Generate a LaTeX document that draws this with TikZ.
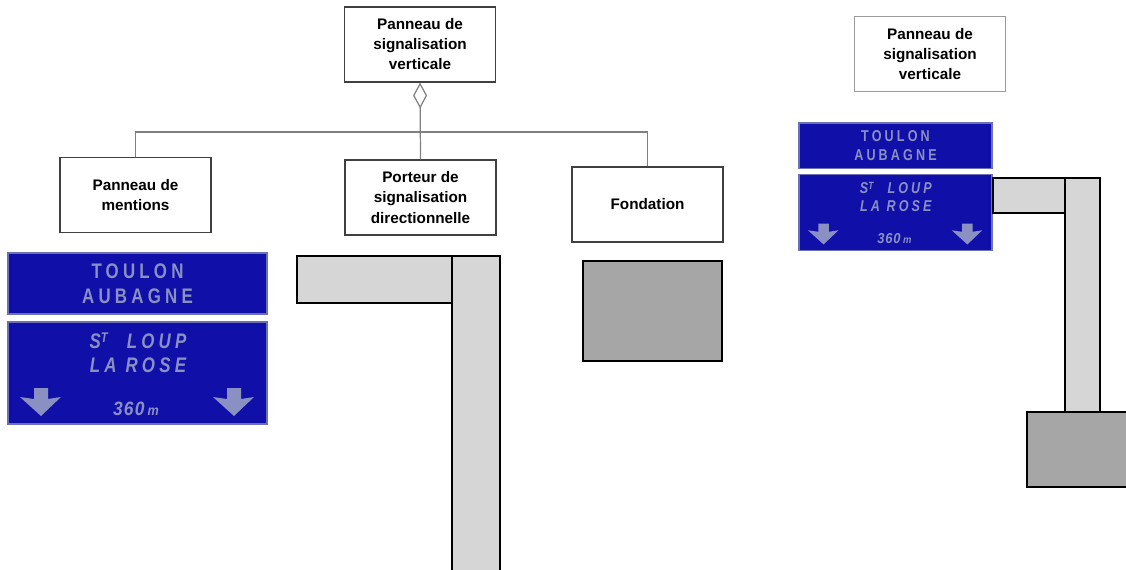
\documentclass[tikz,border=0pt]{standalone}
\usepackage{fontspec}
\setmainfont{Liberation Sans}
\newfontfamily\signfont[FakeStretch=0.8,LetterSpace=20]{Liberation Sans}
\newfontfamily\signnum[FakeStretch=0.9,LetterSpace=6]{Liberation Sans}
\usetikzlibrary{arrows.meta}
\definecolor{lineC}{HTML}{808080}
\definecolor{boxD}{HTML}{404040}
\definecolor{boxL}{HTML}{9A9A9A}
\definecolor{plateF}{HTML}{1010A8}
\definecolor{plateD}{HTML}{6C70B4}
\definecolor{plateT}{HTML}{8A90C2}
\definecolor{poleF}{HTML}{D6D6D6}
\definecolor{footF}{HTML}{A6A6A6}
\tikzset{
  umlbox/.style={draw=boxD, line width=0.6pt, fill=white, align=center, minimum width=3.02cm,
                 minimum height=1.5cm, inner sep=2pt, font=\fontsize{8.7}{11.4}\selectfont\bfseries},
  conn/.style={draw=lineC, line width=0.7pt},
  plate/.style={fill=plateF, draw=plateD, line width=0.8pt},
  pole/.style={fill=poleF, draw=black, line width=0.8pt},
  foot/.style={fill=footF, draw=black, line width=0.8pt},
  platetxt/.style={text=plateT, inner sep=0pt, anchor=base, font=\signfont\fontsize{12}{14}\selectfont\bfseries},
  darrow/.style={fill=plateT, draw=none},
}
% two plates of a direction sign, local units in px from the top left corner
\newcommand\signpair[2]{%
\begin{scope}[#1]
\draw[plate] (0,0) rectangle (259,61);
\draw[plate] (0,69) rectangle (259,171);
\node[platetxt] (#2a) at (129.5,25) {TOULON};
\node[platetxt] (#2b) at (129.5,50) {AUBAGNE};
\node[platetxt, font=\signfont\fontsize{12}{14}\selectfont\bfseries\itshape] (#2c) at (130,95)
  {S\raisebox{2.9pt}{\fontsize{8}{8}\selectfont T}\hspace{0.9em}LOUP};
\node[platetxt, font=\signfont\fontsize{12}{14}\selectfont\bfseries\itshape] (#2d) at (130,119) {LA ROSE};
\node[platetxt, font=\signnum\fontsize{11}{12}\selectfont\bfseries\itshape] (#2e) at (128,162)
  {360\,{\fontsize{8}{8}\selectfont m}};
\fill[darrow] (26,135) -- (40,135) -- (40,146) -- (53,144) -- (33,163) -- (12,144) -- (26,146) -- cycle;
\fill[darrow] (219,135) -- (233,135) -- (233,146) -- (246,144) -- (226,163) -- (205,144) -- (219,146) -- cycle;
\end{scope}}

\begin{document}
\begin{tikzpicture}[x=0.02cm, y=-0.02cm]
\useasboundingbox (0,0) rectangle (1126,569);
\clip (0,0) rectangle (1126,569);
\fill[white] (0,0) rectangle (1126,569);
% class diagram
\node[umlbox] (pv) at (420,44.5) {Panneau de\\signalisation\\verticale};
\node[umlbox] (pm) at (135.5,195) {Panneau de\\mentions};
\node[umlbox] (psd) at (420.5,197.5) {Porteur de\\signalisation\\directionnelle};
\node[umlbox] (fd) at (647.5,204.5) {Fondation};
\coordinate (bus) at (420,132);
\draw[conn, {Diamond[open, length=0.52cm, width=0.28cm]}-] (pv.south) -- (psd.north);
\draw[conn] (pm.north) |- (bus) -| (fd.north);
% parts
\signpair{shift={(8,253)}}{sl}
\draw[pole] (297,256) rectangle (452,303);
\draw[pole] (452,256) rectangle (500,580);
\draw[foot] (583,261) rectangle (722,361);
% assembled sign
\node[umlbox, draw=boxL] (pv2) at (930,54) {Panneau de\\signalisation\\verticale};
\signpair{shift={(799,123)}, scale=0.745, transform shape}{sr}
\draw[pole] (993,178) rectangle (1065,213);
\draw[pole] (1065,178) rectangle (1100,412);
\draw[foot] (1027,412) rectangle (1140,487);
\end{tikzpicture}
\end{document}
